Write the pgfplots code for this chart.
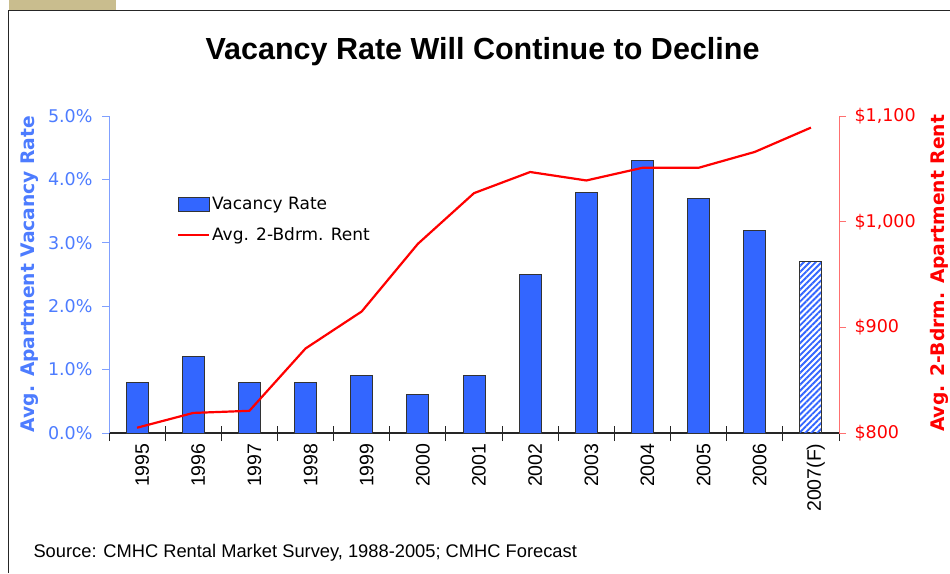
\documentclass[border=0pt]{standalone}
\usepackage{pgfplots}
\pgfplotsset{compat=1.18}
\usepackage{fontspec}
\setmainfont{DejaVu Sans}
\newfontfamily\titlefont{Liberation Sans}
\usetikzlibrary{patterns.meta}
\definecolor{barblue}{HTML}{3366FF}
\definecolor{labblue}{HTML}{4D7CFF}
\definecolor{axblue}{HTML}{80A0FF}
\definecolor{rred}{HTML}{FF0000}
\definecolor{axred}{HTML}{FF7070}
\definecolor{beige}{HTML}{C9BD8E}
\pgfplotsset{
  barleg/.style={legend image code/.code={\draw[##1] (0pt,-7pt) rectangle (31pt,7pt);}},
  lineleg/.style={legend image code/.code={\draw[##1] (0pt,0pt) -- (31pt,0pt);}},
}
\begin{document}
\begin{tikzpicture}[x=1pt,y=1pt]
\useasboundingbox (0,0) rectangle (950,-573);
\fill[beige] (9,0) rectangle (116,-10);
\draw[black!85, line width=1.5pt] (8.5,-573) -- (8.5,-10.5) -- (950,-10.5);
\node[font=\titlefont\bfseries\fontsize{30.5}{36}\selectfont, anchor=base] at (482.5,-59) {Vacancy Rate Will Continue to Decline};
\node[font=\titlefont\fontsize{18.3}{22}\selectfont, anchor=base west] at (30,-557) {Source: CMHC Rental Market Survey, 1988-2005; CMHC Forecast};
\node[rotate=90, anchor=base, labblue, font=\bfseries\fontsize{18.7}{22}\selectfont] at (34,-274) {Avg. Apartment Vacancy Rate};
\node[rotate=90, anchor=base, rred, font=\bfseries\fontsize{18.7}{22}\selectfont] at (944,-273.5) {Avg. 2-Bdrm. Apartment Rent};

\begin{axis}[
 at={(109pt,-433pt)}, anchor=south west,
 width=730pt, height=317pt, scale only axis,
 xmin=-0.5, xmax=12.5, ymin=0, ymax=5,
 axis lines=left, axis line style={-},
 x axis line style={black!85, line width=1.2pt},
 y axis line style={axblue, line width=1pt},
 xtick={0,1,2,3,4,5,6,7,8,9,10,11,12},
 xticklabels={1995,1996,1997,1998,1999,2000,2001,2002,2003,2004,2005,2006,2007(F)},
 major x tick style={draw=none},
 minor xtick={-0.5,0.5,1.5,2.5,3.5,4.5,5.5,6.5,7.5,8.5,9.5,10.5,11.5,12.5},
 minor x tick style={black!85, line width=1pt, yshift=7pt},
 minor tick length=15pt,
 tick align=outside,
 ytick={0,1,2,3,4,5}, major tick length=7pt,
 y tick style={axblue, line width=1pt},
 yticklabel={\pgfmathprintnumber[fixed,fixed zerofill,precision=1]{\tick}\%},
 y tick label style={labblue, font=\fontsize{17.5}{20}\selectfont, xshift=-6pt},
 x tick label style={rotate=90, anchor=east, font=\titlefont\fontsize{19.5}{22}\selectfont, yshift=-5pt},
 /pgf/number format/assume math mode=true,
 legend style={at={(axis description cs:0.093,0.751)}, anchor=north west, draw=none, fill=none,
   font=\fontsize{17}{20}\selectfont, row sep=13pt, inner sep=0pt, cells={anchor=west}},
 legend cell align=left,
 clip=false,
]
\addplot[ybar, bar width=22pt, bar shift=0pt, fill=barblue, draw=black!80, line width=1pt, barleg]
  coordinates {(0,0.8) (1,1.2) (2,0.8) (3,0.8) (4,0.9) (5,0.6) (6,0.9) (7,2.5) (8,3.8) (9,4.3) (10,3.7) (11,3.2)};
\addlegendentry{Vacancy Rate}
\addplot[ybar, bar width=22pt, bar shift=0pt, pattern={Lines[angle=45,distance=4.2pt,line width=1.9pt]}, pattern color=barblue, draw=black!80, line width=1pt, forget plot]
  coordinates {(12,2.7)};
\addlegendimage{rred, line width=2pt, lineleg}
\addlegendentry{Avg. 2-Bdrm. Rent}
\end{axis}

\begin{axis}[
 at={(109pt,-433pt)}, anchor=south west,
 width=730pt, height=317pt, scale only axis,
 xmin=-0.5, xmax=12.5, ymin=800, ymax=1100,
 axis x line=none, axis y line*=right, axis line style={-},
 y axis line style={axred, line width=1pt},
 ytick={800,900,1000,1100}, tick align=outside, major tick length=7pt,
 y tick style={axred, line width=1pt},
 scaled y ticks=false,
 yticklabel={\$\pgfmathprintnumber[1000 sep={,}]{\tick}},
 y tick label style={rred, font=\fontsize{17.5}{20}\selectfont, xshift=5pt},
 /pgf/number format/assume math mode=true,
]
\addplot[rred, line width=2.2pt, mark=none] coordinates {(0,805) (1,819) (2,821) (3,880) (4,915) (5,979) (6,1027) (7,1047) (8,1039) (9,1051) (10,1051) (11,1066) (12,1089)};
\end{axis}
\end{tikzpicture}
\end{document}
